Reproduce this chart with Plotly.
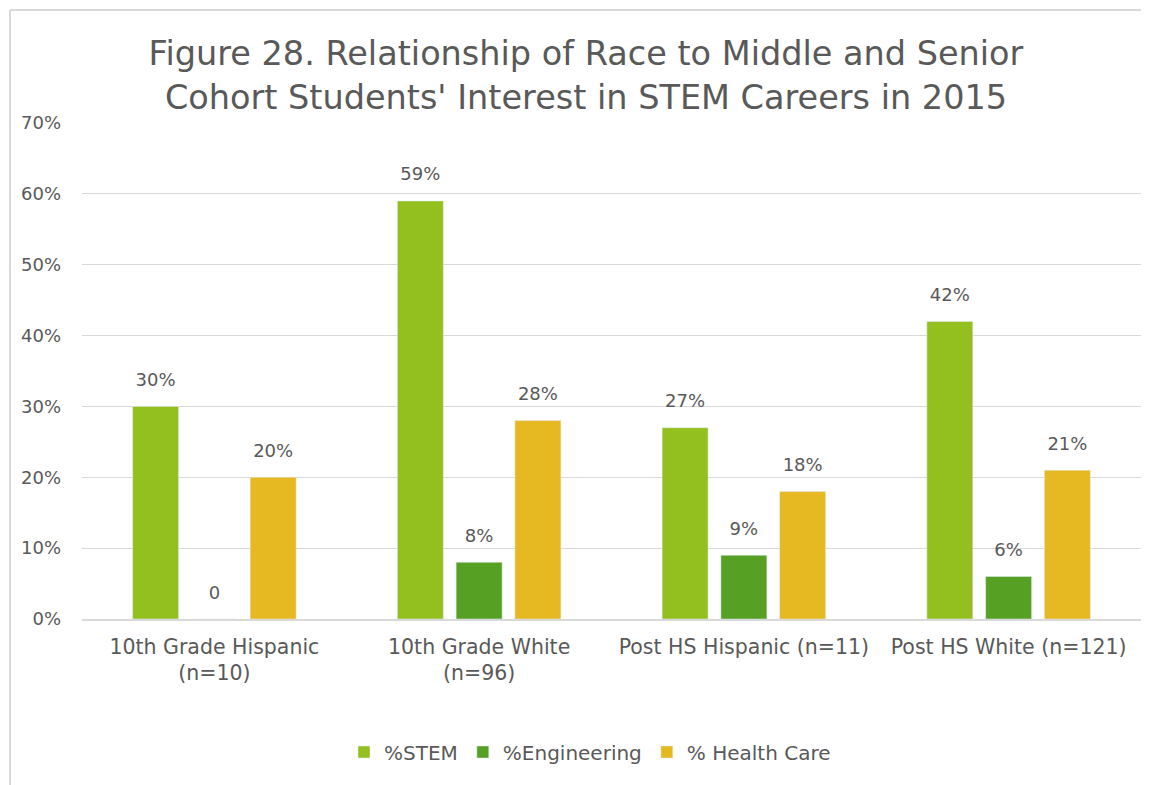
import plotly.graph_objects as go

categories = ["10th Grade Hispanic<br>(n=10)", "10th Grade White<br>(n=96)",
              "Post HS Hispanic (n=11)", "Post HS White (n=121)"]
stem = [0.30, 0.59, 0.27, 0.42]
engineering = [0.00, 0.08, 0.09, 0.06]
health = [0.20, 0.28, 0.18, 0.21]
eng_labels = ["0", "8%", "9%", "6%"]

FONT = "DejaVu Sans"
TXT = "#595959"

OFF = 8  # page body margin
W, H = 1149 - OFF, 785 - OFF
# plot area in (page) pixels -> figure pixels
L, R, T, B = 82 - OFF, 1141 - OFF, 123 - OFF, 619 - OFF
pw, ph = R - L, B - T

def px_x(p):
    return (p - OFF - L) / pw

def px_y(p):
    return (B - (p - OFF)) / ph

BARGAP = 0.334

fig = go.Figure()
series = [
    ("%STEM", stem, "#93C01F", None),
    ("%Engineering", engineering, "#56A023", eng_labels),
    ("% Health Care", health, "#E6B821", None),
]
for name, vals, col, labels in series:
    fig.add_trace(go.Bar(
        x=categories, y=vals, name=name, marker_color=col,
    ))
for name, vals, col, labels in series:
    txt = labels if labels else [f"{v*100:.0f}%" for v in vals]
    fig.add_trace(go.Scatter(
        x=categories, y=vals, mode="markers+text", text=txt, orientation="v",
        textposition="top center", showlegend=False, hoverinfo="skip",
        marker=dict(size=24, opacity=0), cliponaxis=False,
        textfont=dict(family=FONT, size=18, color=TXT),
    ))

fig.update_layout(
    width=W, height=H,
    paper_bgcolor="white", plot_bgcolor="white",
    barmode="group", bargap=BARGAP, bargroupgap=0.218,
    scattermode="group", scattergap=BARGAP,
    margin=dict(l=L, r=W - R, t=T, b=H - B, autoexpand=False),
    font=dict(family=FONT, color=TXT),
    title=dict(
        text="Figure 28. Relationship of Race to Middle and Senior<br>Cohort Students' Interest in STEM Careers in 2015",
        x=(586 - OFF) / W, xanchor="center", y=1 - (74 - OFF - 9) / H, yanchor="middle",
        font=dict(family=FONT, size=33.5, color=TXT),
    ),
    yaxis=dict(range=[0, 0.7], dtick=0.1, tickformat=".0%",
               gridcolor="#D9D9D9", gridwidth=1.3, zeroline=False,
               tickfont=dict(family=FONT, size=18, color=TXT),
               ticklabelstandoff=20, showline=False, automargin=False),
    xaxis=dict(showline=True, linecolor="#D9D9D9", linewidth=2, automargin=False,
               tickfont=dict(family=FONT, size=20.5, color=TXT), ticks="",
               ticklabelstandoff=8),
    legend=dict(orientation="h", x=px_x(590), xanchor="center", y=px_y(752), yanchor="middle",
                font=dict(family=FONT, size=20, color=TXT), traceorder="normal",
                itemwidth=30),
)

# chart border (left and top edges of the chart box)
fig.add_shape(type="line", xref="paper", yref="paper", x0=px_x(10), x1=px_x(10),
              y0=px_y(800), y1=px_y(10), line=dict(color="#D9D9D9", width=2))
fig.add_shape(type="line", xref="paper", yref="paper", x0=px_x(10), x1=px_x(1170),
              y0=px_y(10), y1=px_y(10), line=dict(color="#D9D9D9", width=2))

fig.write_html("out.html")
